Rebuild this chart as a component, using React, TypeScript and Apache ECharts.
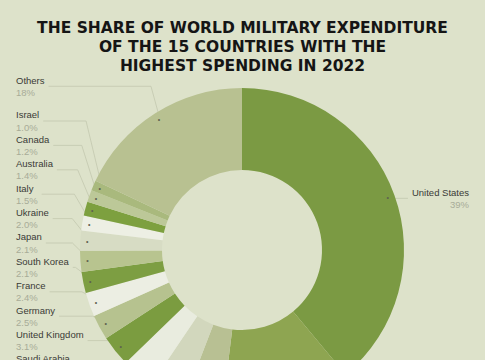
import React, { useEffect, useRef } from "react";
import * as echarts from "echarts";

const titleLines = [
  "THE SHARE OF WORLD MILITARY EXPENDITURE",
  "OF THE 15 COUNTRIES WITH THE",
  "HIGHEST SPENDING IN 2022",
];

const countries = [
  "United States", "China", "Russia", "India", "Saudi Arabia", "United Kingdom",
  "Germany", "France", "South Korea", "Japan", "Ukraine", "Italy",
  "Australia", "Canada", "Israel", "Others",
];
const shares = [39, 13, 3.9, 3.6, 3.3, 3.1, 2.5, 2.4, 2.1, 2.1, 2.0, 1.5, 1.4, 1.2, 1.0, 18];
const colors = [
  "#7b9a43", "#8ea551", "#b8c093", "#d2d7bd", "#e9ecdf", "#7b9c40",
  "#b6c28f", "#eceee3", "#7d9e42", "#b8c48f", "#d7dcc4", "#edefe4",
  "#7da03f", "#bcc898", "#a9b97d", "#b8c191",
];

const fmtPct = (v: number) => (v >= 10 ? `${v}%` : `${v.toFixed(1)}%`);
const LABEL_FONT = "Liberation Sans";
const LABEL_SIZE = 9.5;

function measure(text: string): number {
  const c = document.createElement("canvas").getContext("2d");
  if (!c) return text.length * 5;
  c.font = `${LABEL_SIZE}px "${LABEL_FONT}"`;
  return c.measureText(text).width;
}

export default function App() {
  const ref = useRef<HTMLDivElement>(null);
  useEffect(() => {
    if (!ref.current) return;
    const chart = echarts.init(ref.current, null, { renderer: "svg" });
    const center = [242, 250];
    const base = countries.map((n, i) => ({ name: n, value: shares[i] }));
    chart.setOption({
      animation: false,
      backgroundColor: "#dde2ca",
      title: {
        text: titleLines.join("\n"),
        left: "center",
        top: 13,
        textStyle: {
          fontFamily: "DejaVu Sans",
          fontWeight: "bold",
          fontSize: 15.5,
          lineHeight: 19,
          color: "#151515",
        },
      },
      series: [
        {
          type: "pie",
          radius: [80, 162],
          center,
          startAngle: 90,
          clockwise: true,
          silent: true,
          label: { show: false },
          labelLine: { show: false },
          data: base.map((d, i) => ({ ...d, itemStyle: { color: colors[i] } })),
        },
        {
          type: "pie",
          radius: [150, 152],
          center,
          startAngle: 90,
          clockwise: true,
          silent: true,
          itemStyle: { color: "rgba(0,0,0,0)" },
          label: {
            show: true,
            alignTo: "edge",
            edgeDistance: 16,
            distanceToLabelLine: 4,
            formatter: (p: any) => `{n|${p.name}}\n{p|${fmtPct(p.value)}}`,
            rich: {
              n: { fontFamily: LABEL_FONT, fontSize: LABEL_SIZE, color: "#3a3a36", lineHeight: 12.4 },
              p: { fontFamily: LABEL_FONT, fontSize: LABEL_SIZE, color: "#a8ac98", lineHeight: 12.4 },
            },
          },
          labelLine: {
            show: true,
            length: 18,
            length2: 8,
            smooth: false,
            lineStyle: { color: "#c3c8af", width: 0.8 },
          },
          data: base.map((d, i) => ({
            ...d,
            label: {
              width: Math.ceil(Math.max(measure(d.name), measure(fmtPct(d.value)))) + 1,
            },
            ...(i === 0 ? { labelLine: { length: 0, length2: 14 } } : {}),
          })),
        },
        {
          type: "pie",
          radius: [147, 157],
          center,
          startAngle: 90,
          clockwise: true,
          silent: true,
          itemStyle: { color: "rgba(0,0,0,0)" },
          label: {
            show: true,
            position: "inside",
            formatter: "•",
            fontSize: 7,
            color: "#5d6150",
          },
          labelLine: { show: false },
          data: base,
        },
      ],
    });
    return () => chart.dispose();
  }, []);
  return (
    <div
      ref={ref}
      style={{ position: "fixed", left: 0, top: 0, width: 485, height: 426 }}
    />
  );
}
